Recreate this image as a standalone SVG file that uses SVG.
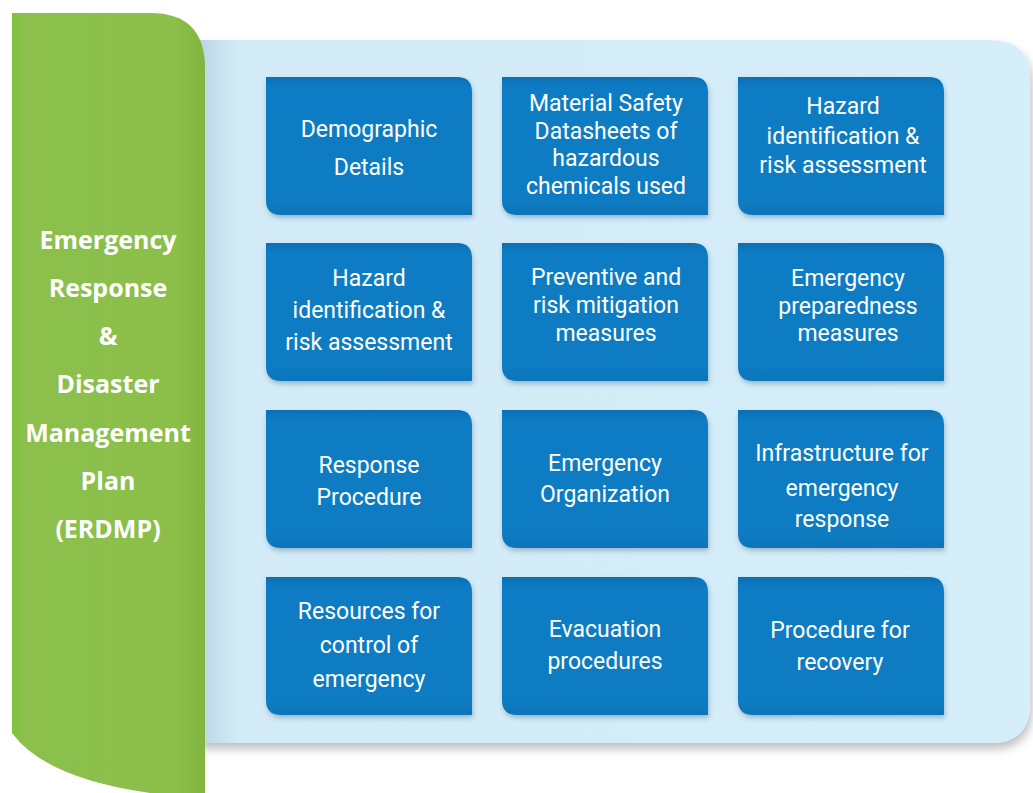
<svg xmlns="http://www.w3.org/2000/svg" width="1033" height="793" viewBox="0 0 1033 793">
<defs>
<linearGradient id="gGreen" x1="0" y1="0" x2="1" y2="0">
<stop offset="0" stop-color="#7fc23a"/>
<stop offset="0.06" stop-color="#8cc04c"/>
<stop offset="0.85" stop-color="#8bbf4a"/>
<stop offset="1" stop-color="#82b540"/>
</linearGradient>
<linearGradient id="gPanel" x1="0" y1="0" x2="1" y2="0">
<stop offset="0" stop-color="#b9d6e6"/>
<stop offset="0.05" stop-color="#d3ebf7"/>
<stop offset="1" stop-color="#d6eef9"/>
</linearGradient>
<linearGradient id="gTile" x1="0" y1="0" x2="0" y2="1">
<stop offset="0" stop-color="#0a6fb4"/>
<stop offset="0.08" stop-color="#0b7cc4"/>
<stop offset="0.9" stop-color="#0a7bc2"/>
<stop offset="1" stop-color="#0c75b8"/>
</linearGradient>
<filter id="sh" x="-10%" y="-10%" width="125%" height="130%">
<feDropShadow dx="2" dy="6" stdDeviation="5" flood-color="#000" flood-opacity="0.25"/>
</filter>
<filter id="tsh" x="-10%" y="-10%" width="125%" height="130%">
<feDropShadow dx="1" dy="3" stdDeviation="2.5" flood-color="#2a5a80" flood-opacity="0.35"/>
</filter>
<style>
.tile{fill:url(#gTile);filter:url(#tsh);}
.t{font-family:Roboto,"Open Sans","Liberation Sans",sans-serif;font-size:23px;fill:#ffffff;text-anchor:middle;}
.g{font-family:"Open Sans","Liberation Sans",sans-serif;font-size:25px;font-weight:bold;fill:#ffffff;text-anchor:middle;}
</style>
</defs>
<rect width="1033" height="793" fill="#ffffff"/>
<g id="panel">
<path d="M198,40 H990 Q1030,40 1030,80 V703 Q1030,743 990,743 H198 Z" fill="url(#gPanel)" filter="url(#sh)"/>
</g>
<g id="sidebar">
<path d="M12,13 H150 Q205,13 205,68 V793 H150 Q45,778 12,733 Z" fill="url(#gGreen)"/>
<text class="g" x="108" y="249">Emergency</text>
<text class="g" x="108" y="297">Response</text>
<text class="g" x="108" y="345">&amp;</text>
<text class="g" x="108" y="393">Disaster</text>
<text class="g" x="108" y="442">Management</text>
<text class="g" x="108" y="490">Plan</text>
<text class="g" x="108" y="538">(ERDMP)</text>
</g>
<g id="n1"><path class="tile" d="M266,77 H457 Q472,77 472,92 V215 H281 Q266,215 266,200 Z"/>
<text class="t" x="369" y="137">Demographic</text><text class="t" x="369" y="175">Details</text></g>
<g id="n2"><path class="tile" d="M502,77 H693 Q708,77 708,92 V215 H517 Q502,215 502,200 Z"/>
<text class="t" x="606" y="111">Material Safety</text><text class="t" x="606" y="139">Datasheets of</text><text class="t" x="606" y="166">hazardous</text><text class="t" x="606" y="194">chemicals used</text></g>
<g id="n3"><path class="tile" d="M738,77 H929 Q944,77 944,92 V215 H753 Q738,215 738,200 Z"/>
<text class="t" x="843" y="114">Hazard</text><text class="t" x="843" y="144">identification &amp;</text><text class="t" x="843" y="173">risk assessment</text></g>
<g id="n4"><path class="tile" d="M266,243 H457 Q472,243 472,258 V381 H281 Q266,381 266,366 Z"/>
<text class="t" x="369" y="286">Hazard</text><text class="t" x="369" y="318">identification &amp;</text><text class="t" x="369" y="350">risk assessment</text></g>
<g id="n5"><path class="tile" d="M502,243 H693 Q708,243 708,258 V381 H517 Q502,381 502,366 Z"/>
<text class="t" x="606" y="285">Preventive and</text><text class="t" x="606" y="313">risk mitigation</text><text class="t" x="606" y="341">measures</text></g>
<g id="n6"><path class="tile" d="M738,243 H929 Q944,243 944,258 V381 H753 Q738,381 738,366 Z"/>
<text class="t" x="848" y="286">Emergency</text><text class="t" x="848" y="314">preparedness</text><text class="t" x="848" y="341">measures</text></g>
<g id="n7"><path class="tile" d="M266,410 H457 Q472,410 472,425 V548 H281 Q266,548 266,533 Z"/>
<text class="t" x="369" y="473">Response</text><text class="t" x="369" y="505">Procedure</text></g>
<g id="n8"><path class="tile" d="M502,410 H693 Q708,410 708,425 V548 H517 Q502,548 502,533 Z"/>
<text class="t" x="605" y="471">Emergency</text><text class="t" x="605" y="502">Organization</text></g>
<g id="n9"><path class="tile" d="M738,410 H929 Q944,410 944,425 V548 H753 Q738,548 738,533 Z"/>
<text class="t" x="842" y="461">Infrastructure for</text><text class="t" x="842" y="496">emergency</text><text class="t" x="842" y="527">response</text></g>
<g id="n10"><path class="tile" d="M266,577 H457 Q472,577 472,592 V715 H281 Q266,715 266,700 Z"/>
<text class="t" x="369" y="619">Resources for</text><text class="t" x="369" y="653">control of</text><text class="t" x="369" y="687">emergency</text></g>
<g id="n11"><path class="tile" d="M502,577 H693 Q708,577 708,592 V715 H517 Q502,715 502,700 Z"/>
<text class="t" x="605" y="637">Evacuation</text><text class="t" x="605" y="669">procedures</text></g>
<g id="n12"><path class="tile" d="M738,577 H929 Q944,577 944,592 V715 H753 Q738,715 738,700 Z"/>
<text class="t" x="840" y="638">Procedure for</text><text class="t" x="840" y="670">recovery</text></g>
<g id="connectors"></g>
</svg>
